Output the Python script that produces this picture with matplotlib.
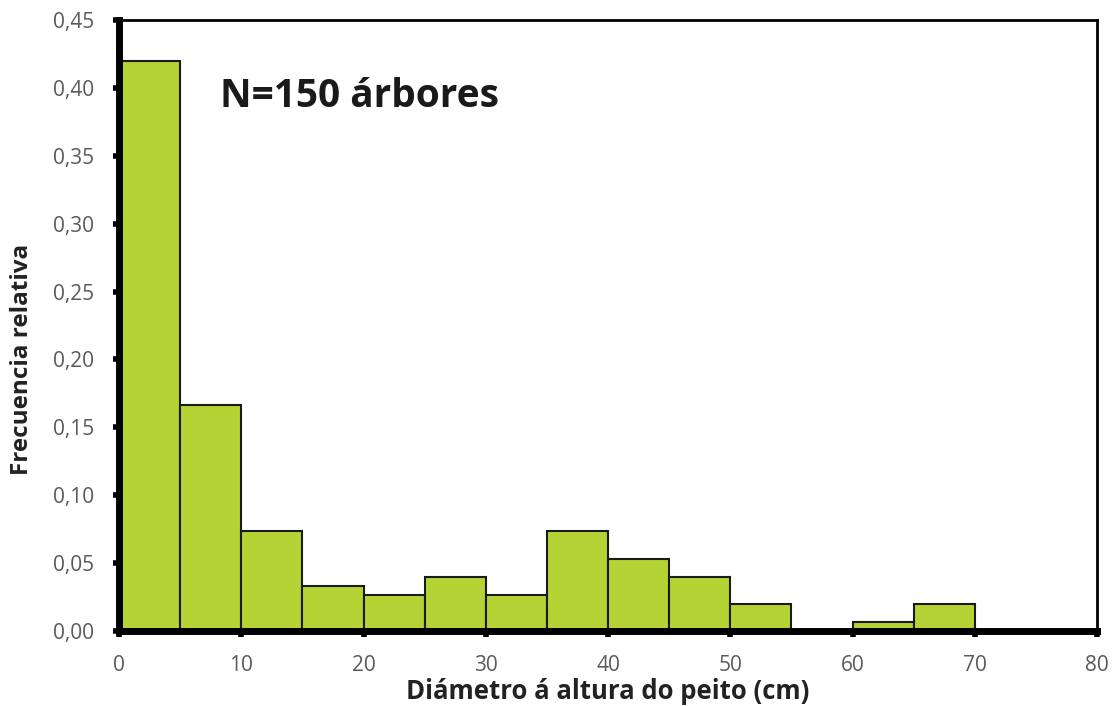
import matplotlib.pyplot as plt
import numpy as np
from matplotlib.ticker import FuncFormatter

# class edges (cm) and relative frequencies (count / 150)
edges = [0, 5, 10, 15, 20, 25, 30, 35, 40, 45, 50, 55, 60, 65, 70]
counts = [63, 25, 11, 5, 4, 6, 4, 11, 8, 6, 3, 0, 1, 3]
freq = np.array(counts) / 150.0

plt.rcParams['font.family'] = ['Open Sans', 'DejaVu Sans']

fig = plt.figure(figsize=(11.14, 7.06), dpi=100)
ax = fig.add_axes([119 / 1114, 1 - 631 / 706, (1097 - 119) / 1114, (631 - 20) / 706])

lefts = np.array(edges[:-1])
widths = np.diff(edges)
mask = freq > 0
ax.bar(lefts[mask], freq[mask], width=widths[mask], align='edge',
       color='#b5d334', edgecolor='#1a1a1a', linewidth=1.5, zorder=2)

ax.set_xlim(0, 80)
ax.set_ylim(0, 0.45)
ax.set_xticks(np.arange(0, 81, 10))
ax.set_yticks(np.arange(0, 0.451, 0.05))
ax.yaxis.set_major_formatter(FuncFormatter(lambda v, p: f'{v:.2f}'.replace('.', ',')))

for s in ['left', 'bottom']:
    ax.spines[s].set_linewidth(5)
for s in ['top', 'right']:
    ax.spines[s].set_linewidth(2)
ax.tick_params(direction='out', length=4, width=4, colors='black',
               labelcolor='#5a5a5a', labelsize=15)
ax.tick_params(axis='x', pad=13)
ax.tick_params(axis='y', pad=14)

ax.set_xlabel('Diámetro á altura do peito (cm)', fontsize=18.5, fontweight='bold',
              color='#222222')
ax.xaxis.set_label_coords(0.5, -0.077)
ax.set_ylabel('Frecuencia relativa', fontsize=17.5, fontweight='bold',
              color='#222222')
ax.yaxis.set_label_coords(-0.087, 0.445)

ax.text(8.3, 0.386, 'N=150 árbores', fontsize=28, fontweight='bold',
        color='#1a1a1a', va='baseline', ha='left')

fig.savefig('out.png', dpi=100)
